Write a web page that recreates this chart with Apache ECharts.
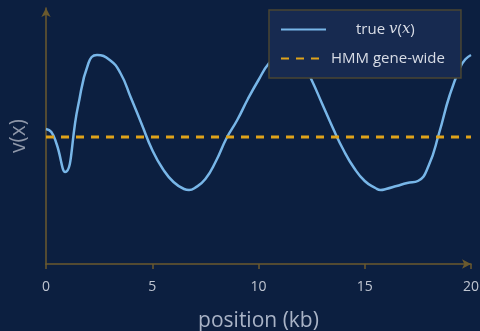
<!DOCTYPE html>
<html>
<head>
<meta charset="utf-8">
<script src="https://cdn.jsdelivr.net/npm/echarts@6/dist/echarts.min.js"></script>
<style>
  html, body { margin: 0; padding: 0; background: #0c1f40; }
  #chart { width: 480px; height: 331px; }
</style>
</head>
<body>
<div id="chart"></div>
<script>
// position along the gene (kb): every 0.5 kb plus the turning points
const positions = [0, 0.25, 0.5, 0.9, 1.5, 2, 2.4, 3, 3.5, 4, 4.5, 5, 5.5, 6, 6.5, 6.73, 7, 7.5, 8, 8.5, 9, 9.5,
  10, 10.5, 11, 11.5, 12, 12.5, 13, 13.5, 14, 14.5, 15, 15.5, 15.75, 16, 16.5, 17, 17.5, 18, 18.5, 19, 19.5, 19.75, 20];
// true rate v(x) at each position
const trueV = [1.35, 1.32, 1.20, 0.92, 1.57, 2.01, 2.09, 2.04, 1.91, 1.66, 1.40, 1.14, 0.95, 0.82, 0.75, 0.74, 0.76,
  0.85, 1.03, 1.26, 1.44, 1.65, 1.84, 2.01, 2.10, 2.14, 2.05, 1.84, 1.60, 1.36, 1.14, 0.96, 0.83,
  0.76, 0.74, 0.75, 0.78, 0.81, 0.83, 0.98, 1.31, 1.69, 1.97, 2.05, 2.09];
// single gene-wide HMM estimate
const hmmLevel = 1.27;
const xRange = [0, 20];

const axisColor = '#6b5a2e';
const font = 'Open Sans';

const chart = echarts.init(document.getElementById('chart'));
chart.setOption({
  backgroundColor: '#0c1f40',
  animation: false,
  grid: { left: 46, right: 9, top: 8, bottom: 67, outerBoundsMode: 'none', containLabel: false },
  xAxis: {
    type: 'value', min: xRange[0], max: xRange[1], interval: 5,
    name: 'position (kb)', nameLocation: 'middle', nameGap: 47,
    nameTextStyle: { color: '#a9b3c6', fontSize: 21, fontFamily: font },
    axisLine: { show: true, lineStyle: { color: axisColor, width: 1.5 }, symbol: ['none', 'arrow'], symbolSize: [7, 9] },
    axisTick: { show: true, length: 5, lineStyle: { color: axisColor, width: 1.5 } },
    axisLabel: { color: '#bfc5d1', fontSize: 14, fontFamily: font, margin: 16 },
    splitLine: { show: false }
  },
  yAxis: {
    type: 'value', min: 0, max: 2.56,
    name: 'v(x)', nameLocation: 'middle', nameGap: 16, nameRotate: 90,
    nameTextStyle: { color: '#8e97a9', fontSize: 21, fontFamily: font },
    axisLine: { show: true, lineStyle: { color: axisColor, width: 1.5 }, symbol: ['none', 'arrow'], symbolSize: [7, 9] },
    axisTick: { show: false },
    axisLabel: { show: false },
    splitLine: { show: false }
  },
  legend: {
    orient: 'vertical', left: 269, top: 10,
    padding: [12, 16, 12, 11], itemGap: 14, itemWidth: 45, itemHeight: 14,
    backgroundColor: '#172a50', borderColor: '#4a4632', borderWidth: 1.5, borderRadius: 0,
    itemStyle: { opacity: 0 },
    data: ['true v(x)', 'HMM gene-wide'],
    textStyle: {
      color: '#d9dde6', fontSize: 15, fontFamily: font,
      rich: {
        p: { width: 25 },
        n: { color: '#d9dde6', fontSize: 15, fontFamily: font },
        i: { color: '#d9dde6', fontSize: 15, fontFamily: 'DejaVu Serif', fontStyle: 'italic' }
      }
    },
    formatter: name => name === 'true v(x)'
      ? '{p|}{n|true }{i|v}{n|(}{i|x}{n|)}'
      : '{n|' + name + '}'
  },
  series: [
    {
      name: 'true v(x)', type: 'line', smooth: 0.5, symbol: 'none', z: 2,
      data: positions.map((x, i) => [x, trueV[i]]),
      lineStyle: { color: '#78b6e8', width: 2.5 },
      itemStyle: { color: '#78b6e8' }
    },
    {
      name: 'HMM gene-wide', type: 'line', symbol: 'none', z: 3,
      data: xRange.map(x => [x, hmmLevel]),
      lineStyle: { color: '#e0a31a', width: 3, type: [8, 7] },
      itemStyle: { color: '#e0a31a' }
    }
  ]
});
</script>
</body>
</html>
